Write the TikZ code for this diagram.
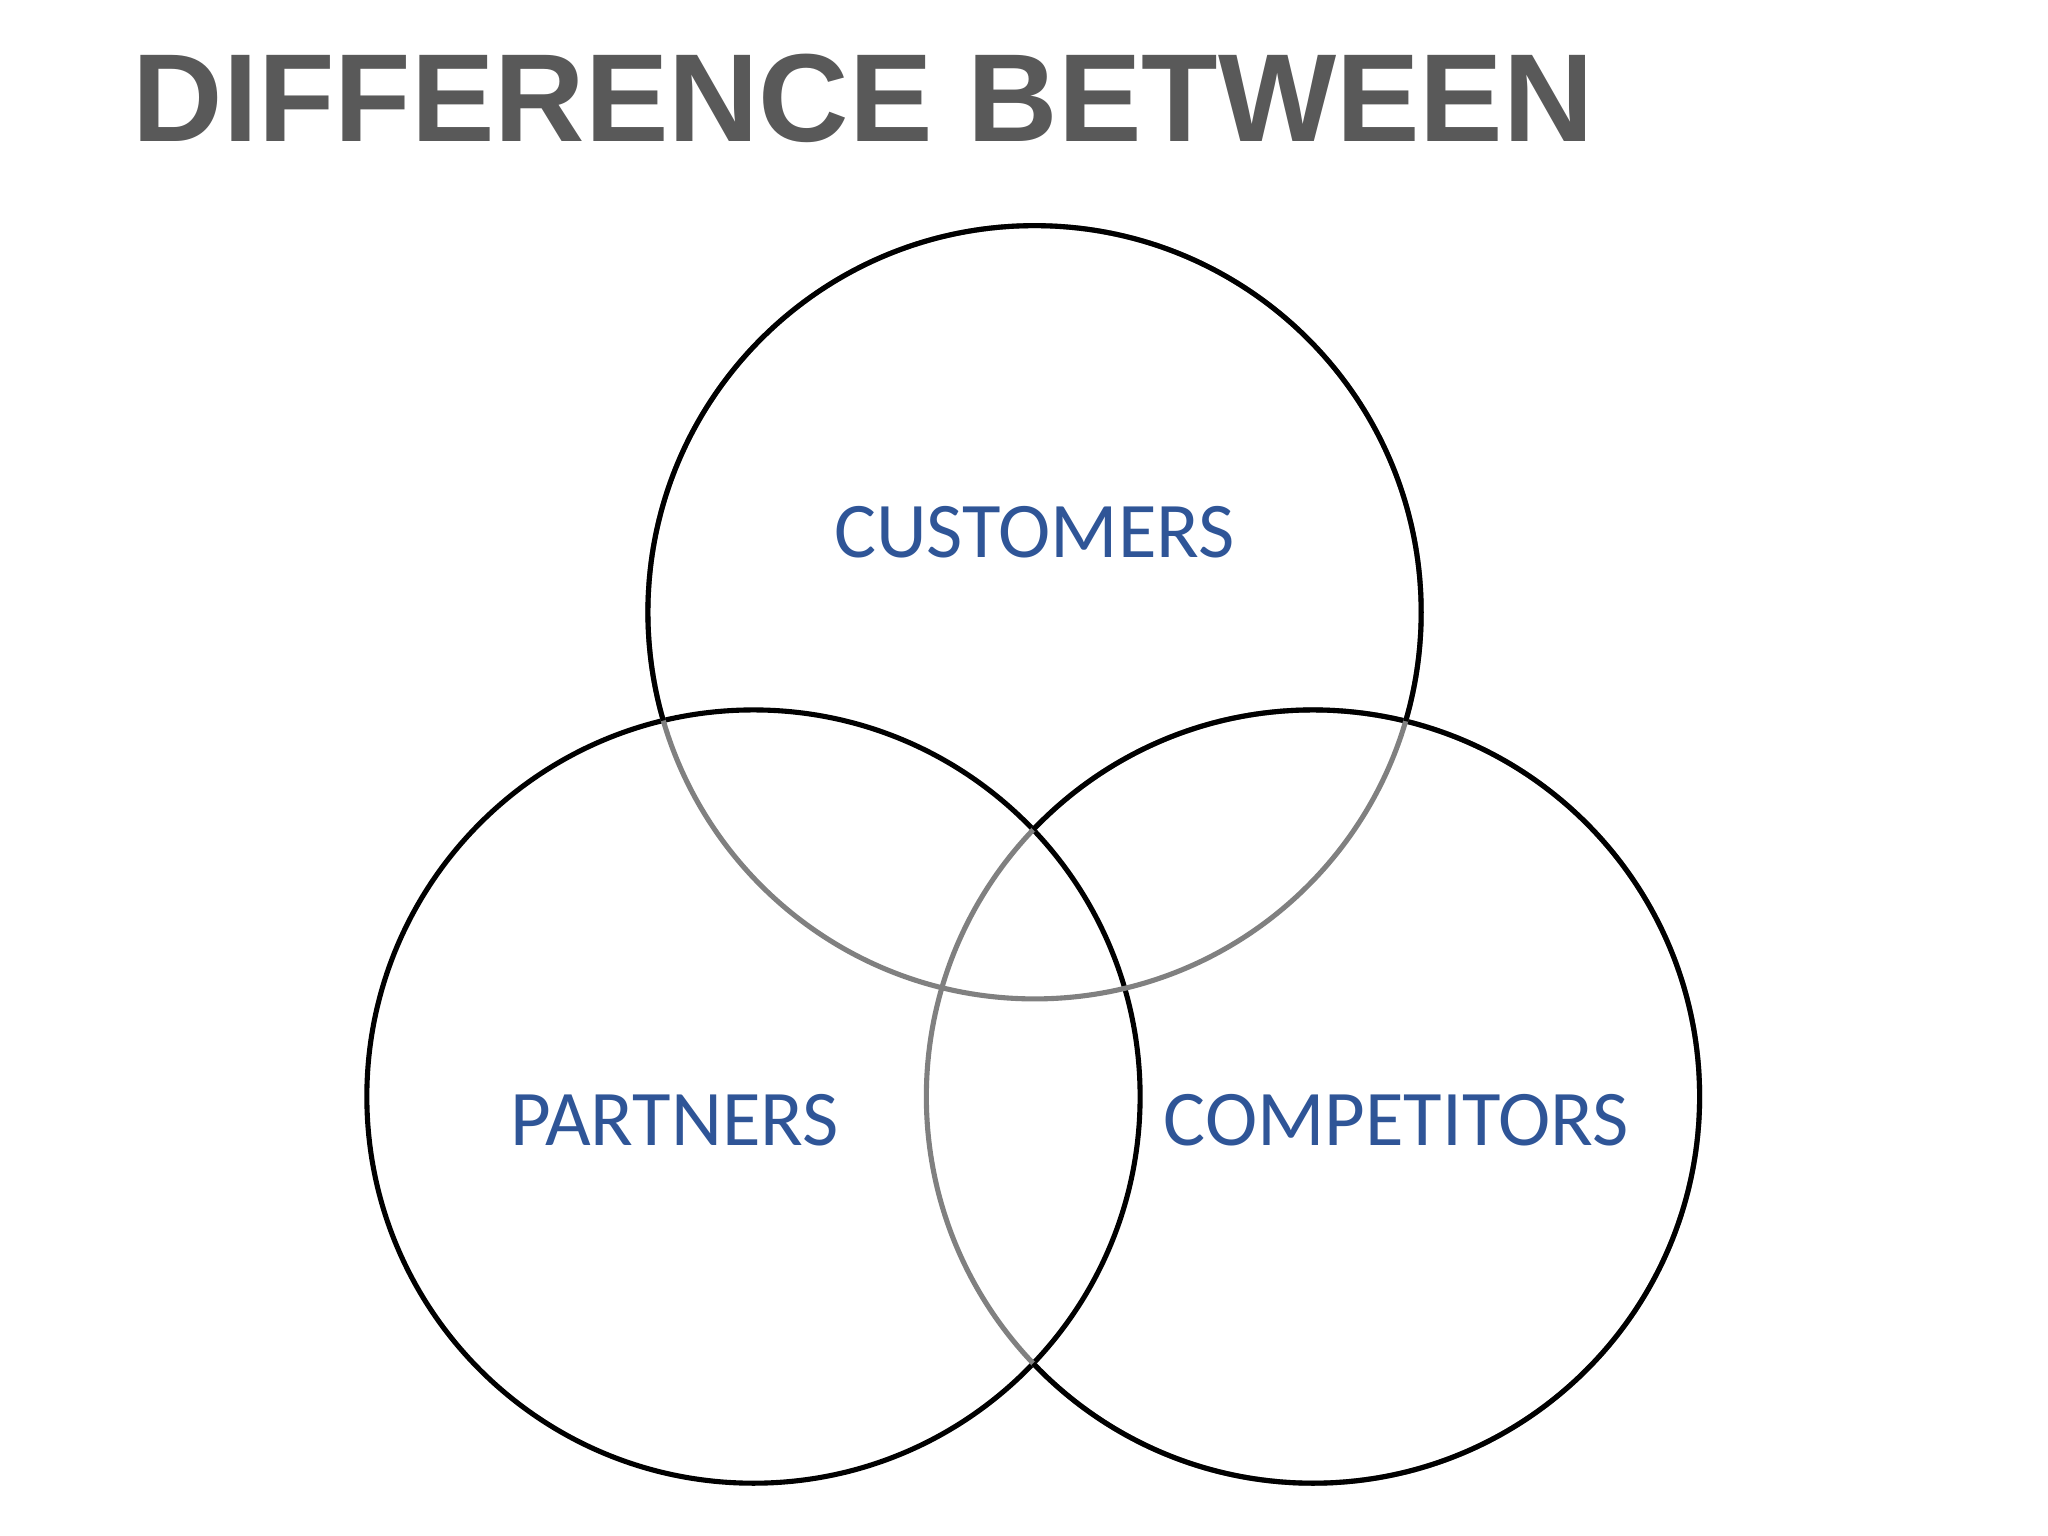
\documentclass[tikz,border=0pt]{standalone}
\usepackage{fontspec}
\setmainfont{Liberation Sans}
\newfontfamily\lab{Carlito}
\definecolor{titlegray}{HTML}{595959}
\definecolor{labblue}{HTML}{2F5597}
\begin{document}
\begin{tikzpicture}
\tikzset{ring/.style={line width=1.1pt,draw=black},
  inner/.style={line width=1.1pt,draw=gray},
  lbl/.style={font=\lab\fontsize{17}{20}\selectfont,text=labblue}}
\useasboundingbox (0,0) rectangle (15.52,-11.64);
\node[anchor=base west,inner sep=0,font=\bfseries\fontsize{27}{30}\selectfont,text=titlegray] (title) at (1.0,-1.07) {DIFFERENCE BETWEEN};
\coordinate (ct) at (7.84,-4.64);
\coordinate (cl) at (5.71,-8.31);
\coordinate (cr) at (9.95,-8.31);
% left circle
\draw[ring] (cl) circle (2.93);
% right circle
\draw[inner] (cr) circle (2.93);
\begin{scope}[even odd rule]
\clip (-1,1) rectangle (17,-13) (cl) circle (2.93);
\draw[ring] (cr) circle (2.93);
\end{scope}
% top circle
\draw[inner] (ct) circle (2.93);
\begin{scope}[even odd rule]
\clip (-1,1) rectangle (17,-13) (cl) circle (2.93);
\begin{scope}[even odd rule]
\clip (-1,1) rectangle (17,-13) (cr) circle (2.93);
\draw[ring] (ct) circle (2.93);
\end{scope}
\end{scope}
\node[lbl] (cust) at (7.84,-4.03) {CUSTOMERS};
\node[lbl] (part) at (5.11,-8.49) {PARTNERS};
\node[lbl] (comp) at (10.58,-8.49) {COMPETITORS};
\end{tikzpicture}
\end{document}
